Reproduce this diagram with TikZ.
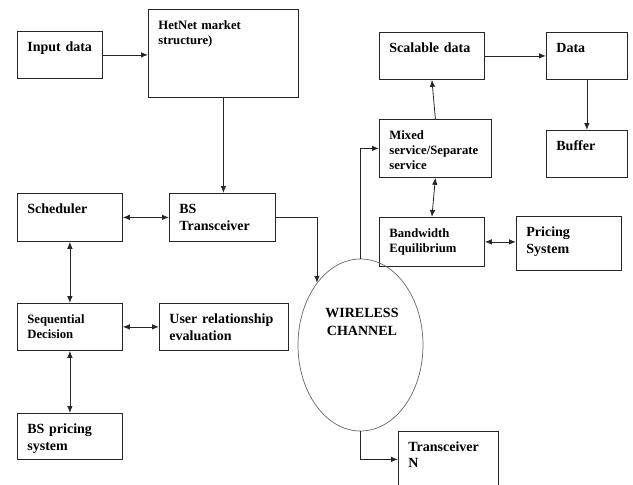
\documentclass[tikz,border=0pt]{standalone}
\usepackage{fontspec}
\setmainfont{Liberation Serif}
\usetikzlibrary{arrows.meta,shapes.geometric}
\tikzset{
  blk/.style={draw=black!85, line width=0.8pt, anchor=north west, align=left,
    inner xsep=10pt, inner ysep=10pt, text height=10pt,
    font=\bfseries\fontsize{14}{17.5}\selectfont},
  sm/.style={font=\bfseries\fontsize{12.7}{15}\selectfont},
  chanshape/.style={ellipse, draw=black!60, line width=0.7pt,
    minimum width=125, minimum height=172, inner sep=0pt},
  conn/.style={line width=0.8pt, black!85, -{Latex[length=7pt,width=5.5pt]}},
  bidi/.style={line width=0.8pt, black!85,
    {Latex[length=7pt,width=5.5pt]}-{Latex[length=7pt,width=5.5pt]}},
}
\begin{document}
\begin{tikzpicture}[x=1pt,y=-1pt]
      \useasboundingbox (0,0) rectangle (633,485);
      \node[blk, text width=65, text depth=17] (input) at (17,31) {Input data};
      \node[blk, sm, text width=130, text depth=58] (hetnet) at (148,9) {HetNet market\\structure)};
      \node[blk, text width=85, text depth=18] (sched) at (17,193) {Scheduler};
      \node[blk, text width=86, text depth=18] (bstx) at (169,193) {BS\\Transceiver};
      \node[blk, sm, text width=85, text depth=17] (seqd) at (17,303) {Sequential\\Decision};
      \node[blk, text width=109, text depth=17] (usrel) at (159,303) {User relationship\\evaluation};
      \node[blk, text width=85, text depth=16] (bsprice) at (17,413) {BS pricing\\system};
      \node[blk, text width=85, text depth=17] (scal) at (379,32) {Scalable data};
      \node[blk, text width=61, text depth=17] (data) at (546,32) {Data};
      \node[blk, text width=61, text depth=17] (buffer) at (546,130) {Buffer};
      \node[blk, sm, text width=92, text depth=28] (mixed) at (379,119) {Mixed\\service/Separate\\service};
      \node[blk, sm, text width=85, text depth=19] (bw) at (379,217) {Bandwidth\\Equilibrium};
      \node[blk, text width=85, text depth=24] (pricing) at (516,216) {Pricing\\System};
      \node[blk, text width=80, text depth=26,
        font=\bfseries\fontsize{14}{16}\selectfont] (txN) at (398,431) {Transceiver\\N};
      \node[chanshape] (chan) at (360.5,345) {};
      \node[font=\bfseries\fontsize{14}{18}\selectfont, align=center] (chantxt) at (362,322) {WIRELESS\\CHANNEL};
      \begin{scope}[conn]
        \draw (input.east) -- (input.east -| hetnet.west);
        \draw (hetnet.south) -- (hetnet.south |- bstx.north);
        \draw (bstx.east) -| (chan.125);
        \draw (chan.north) |- (mixed.west);
        \draw (chan.south) |- (txN.west);
        \draw (mixed.north) -- (scal.south);
        \draw (scal.east) -- (data.west);
        \draw (data.south) -- (buffer.north);
      \end{scope}
      \begin{scope}[bidi]
        \draw (sched.east) -- (bstx.west);
        \draw (sched.south) -- (seqd.north);
        \draw (seqd.east) -- (usrel.west);
        \draw (seqd.south) -- (bsprice.north);
        \draw (mixed.south) -- (bw.north);
        \draw (bw.east) -- (bw.east -| pricing.west);
      \end{scope}
    \end{tikzpicture}
\end{document}
